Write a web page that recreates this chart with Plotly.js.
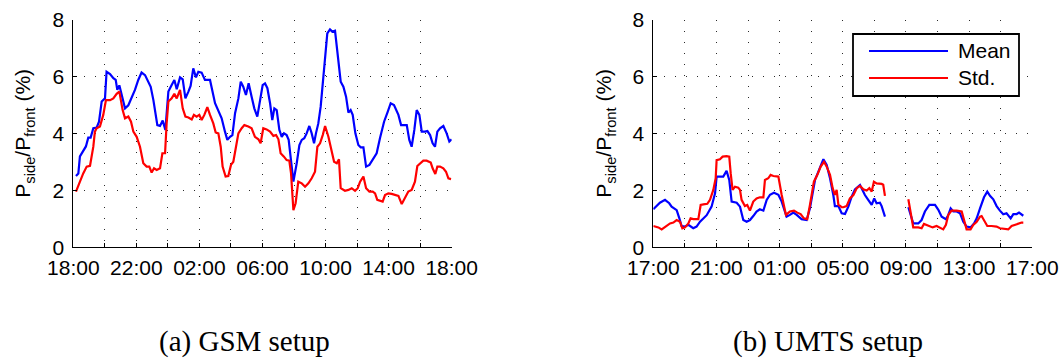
<!DOCTYPE html>
<html>
<head>
<meta charset="utf-8">
<script src="https://cdn.plot.ly/plotly-3.0.1.min.js"></script>
<style>
  html, body { margin: 0; padding: 0; background: #fff; }
  #chart { width: 1061px; height: 363px; }
</style>
</head>
<body>
<div id="chart"></div>
<script>
// ---------- Data (hours elapsed since start of each measurement) ----------
const seriesNames = ['Mean', 'Std.'];
const seriesColors = ['#0000ff', '#ff0000'];

const gsmTickLabels = ['18:00', '22:00', '02:00', '06:00', '10:00', '14:00', '18:00'];
const umtsTickLabels = ['17:00', '21:00', '01:00', '05:00', '09:00', '13:00', '17:00'];
const labelHours = [0, 4, 8, 12, 16, 20, 24];
const gridHours = [0, 2, 4, 6, 8, 10, 12, 14, 16, 18, 20, 22, 24];
const yTickValues = [0, 2, 4, 6, 8];

const gsmMeanHours = [0.17,0.32,0.42,0.63,0.80,0.95,1.10,1.27,1.48,1.63,1.80,2.01,2.11,2.33,2.54,2.69,2.79,2.92,3.07,3.28,3.49,3.70,3.91,4.12,4.33,4.55,4.76,4.91,5.08,5.33,5.50,5.67,5.84,6.03,6.24,6.41,6.56,6.77,6.94,7.11,7.30,7.44,7.61,7.78,7.93,8.14,8.35,8.67,8.99,9.20,9.41,9.62,9.77,9.94,10.09,10.26,10.47,10.62,10.78,10.95,11.12,11.31,11.48,11.67,11.84,12.01,12.16,12.31,12.48,12.62,12.75,12.90,13.07,13.22,13.36,13.53,13.66,13.79,13.96,14.17,14.34,14.49,14.65,14.80,14.97,15.12,15.27,15.39,15.54,15.69,15.82,15.97,16.11,16.28,16.43,16.60,16.75,16.96,17.13,17.30,17.45,17.59,17.72,17.89,18.08,18.23,18.40,18.57,18.78,18.99,19.24,19.45,19.71,19.94,20.13,20.34,20.62,20.79,20.98,21.15,21.31,21.46,21.63,21.78,21.95,22.10,22.31,22.46,22.63,22.79,22.94,23.09,23.26,23.47,23.68,23.85,24.00];
const gsmMean = [2.51,2.6,3.2,3.4,3.55,3.86,3.86,4.19,4.21,4.42,5.13,5.24,6.18,6.1,5.95,5.89,5.54,5.7,5.36,4.89,5.0,5.24,5.54,5.89,6.15,6.06,5.83,5.65,5.18,4.3,4.27,4.46,4.13,5.48,5.71,5.89,5.56,5.98,5.91,5.24,5.48,5.68,6.3,5.98,6.18,6.15,5.89,5.89,5.07,4.83,4.54,4.07,3.78,3.89,3.95,4.72,5.24,5.83,5.65,5.36,5.77,5.3,4.89,4.6,5.18,5.71,5.77,5.6,5.07,4.48,4.89,4.83,4.13,3.89,4.01,3.95,3.78,3.2,2.31,2.96,3.6,3.78,3.84,4.01,4.27,4.01,3.66,4.01,4.36,4.95,5.77,6.94,7.53,7.67,7.59,7.62,6.83,5.83,5.65,5.3,4.74,4.83,4.66,4.01,3.6,3.52,3.52,2.84,2.9,3.07,3.31,3.84,4.42,4.77,5.07,5.01,4.66,4.3,4.3,4.3,3.78,3.54,4.13,4.83,4.66,4.07,4.07,4.09,3.95,3.66,3.54,4.07,4.19,4.27,4.01,3.72,3.8];

const gsmStdHours = [0.17,0.42,0.63,0.85,1.06,1.27,1.37,1.48,1.69,1.90,2.07,2.33,2.54,2.75,2.92,3.13,3.28,3.49,3.66,3.81,4.02,4.23,4.44,4.65,4.82,4.97,5.12,5.29,5.50,5.65,5.82,5.92,6.03,6.24,6.41,6.56,6.77,6.94,7.11,7.30,7.51,7.65,7.82,7.99,8.14,8.31,8.50,8.67,8.88,9.03,9.20,9.35,9.47,9.66,9.83,10.00,10.15,10.32,10.47,10.68,10.85,11.10,11.31,11.52,11.74,11.88,12.05,12.26,12.48,12.69,12.86,13.01,13.15,13.36,13.53,13.70,13.81,13.96,14.10,14.27,14.49,14.70,14.91,15.12,15.33,15.48,15.65,15.82,15.97,16.18,16.35,16.54,16.71,16.85,16.96,17.23,17.45,17.66,17.87,18.04,18.19,18.40,18.57,18.78,18.99,19.14,19.28,19.45,19.62,19.77,19.98,20.19,20.41,20.62,20.83,21.04,21.25,21.46,21.67,21.82,22.04,22.20,22.41,22.67,22.79,22.96,23.09,23.26,23.47,23.64,23.79,23.96];
const gsmStd = [1.96,2.31,2.6,2.84,2.87,3.54,4.07,4.19,4.25,4.66,5.18,5.18,5.24,5.4,5.48,4.83,4.54,4.6,4.42,4.07,3.89,3.54,2.96,2.84,2.84,2.63,2.78,2.72,2.78,3.31,3.31,4.36,5.13,5.24,5.4,5.24,5.54,4.89,4.6,4.57,4.5,4.66,4.6,4.66,4.48,4.66,4.93,4.66,4.36,4.04,4.01,3.54,2.84,2.49,2.51,2.9,3.01,3.54,4.01,4.19,4.3,4.25,4.19,3.89,3.8,3.66,4.19,4.15,4.07,3.92,3.95,3.8,3.31,3.19,3.07,3.05,2.6,1.31,1.55,2.31,2.25,2.13,2.25,2.43,2.66,3.54,3.66,3.95,4.27,3.89,3.48,3.01,2.96,3.1,2.08,1.99,2.02,2.08,1.99,2.08,2.31,2.49,2.08,1.96,1.96,1.9,1.67,1.63,1.61,1.84,1.9,1.88,1.84,1.81,1.52,1.72,1.96,2.02,2.31,2.86,2.96,3.05,3.05,2.98,2.78,2.58,2.84,2.84,2.78,2.66,2.43,2.4];

// UMTS: null marks the measurement gap
const umtsMeanHours = [0.00,0.21,0.42,0.74,1.01,1.16,1.48,1.65,1.79,2.01,2.22,2.53,2.74,2.96,3.38,3.69,3.91,4.01,4.43,4.64,4.81,4.96,5.28,5.49,5.70,5.91,6.12,6.33,6.54,6.75,6.97,7.18,7.39,7.64,7.92,8.13,8.44,8.65,8.87,9.08,9.39,9.71,9.92,10.24,10.55,10.77,10.98,11.19,11.40,11.50,11.72,11.93,12.14,12.35,12.56,12.77,13.09,13.40,13.61,13.83,13.99,14.14,14.35,14.46,14.67,15.40,16.15,16.46,16.78,16.99,17.20,17.48,17.84,18.05,18.26,18.53,18.68,18.83,19.00,19.21,19.42,19.63,19.84,20.09,20.31,20.48,20.69,20.94,21.15,21.32,21.53,21.74,21.95,22.16,22.37,22.63,22.80,23.01,23.16,23.32,23.43];
const umtsMean = [1.34,1.45,1.57,1.67,1.55,1.43,1.31,1.02,0.75,0.73,0.79,0.67,0.73,0.90,1.13,1.43,1.90,2.49,2.49,2.69,2.37,1.61,1.57,1.43,0.96,0.90,0.96,1.10,1.26,1.34,1.29,1.67,1.85,1.92,1.85,1.61,1.08,1.14,1.22,1.14,0.99,0.96,1.37,2.37,2.84,3.10,2.90,2.43,1.84,1.45,1.45,1.20,1.17,1.43,1.78,2.04,2.19,1.84,1.67,1.49,1.72,1.55,1.57,1.45,1.08,null,1.41,0.84,0.84,0.96,1.26,1.49,1.49,1.32,1.08,0.99,1.14,1.37,1.26,1.26,1.20,0.90,0.73,0.70,0.84,1.02,1.37,1.76,1.96,1.81,1.69,1.45,1.29,1.16,1.20,1.02,1.17,1.17,1.22,1.14,1.11];

const umtsStdHours = [0.00,0.32,0.53,0.84,1.06,1.27,1.48,1.69,1.84,2.01,2.22,2.36,2.53,2.85,3.00,3.17,3.42,3.59,3.80,3.95,4.01,4.22,4.39,4.64,4.81,4.90,5.02,5.17,5.38,5.49,5.59,5.80,5.95,6.12,6.33,6.54,6.75,6.97,7.07,7.28,7.43,7.60,7.92,8.13,8.40,8.65,8.91,9.12,9.33,9.54,9.75,9.92,10.17,10.39,10.60,10.81,10.98,11.19,11.36,11.50,11.61,11.72,11.93,12.03,12.24,12.45,12.67,12.88,13.09,13.30,13.51,13.68,13.83,13.97,14.14,14.46,14.56,14.67,15.40,16.15,16.30,16.46,16.78,16.99,17.14,17.41,17.69,17.94,18.15,18.36,18.53,18.68,18.89,19.21,19.53,19.67,19.84,20.09,20.26,20.48,20.69,20.79,20.94,21.15,21.42,21.74,21.95,22.27,22.48,22.69,23.01,23.32,23.43];
const umtsStd = [0.75,0.70,0.63,0.75,0.84,0.87,0.96,0.90,0.67,0.70,0.84,1.02,0.99,0.99,1.49,1.51,1.53,1.67,2.02,2.43,3.07,3.10,3.19,3.21,3.19,2.61,2.02,2.13,2.10,2.02,1.67,1.45,1.49,1.29,1.61,1.72,1.76,1.76,2.37,2.43,2.55,2.51,2.49,1.84,1.14,1.26,1.29,1.22,1.17,1.02,0.99,1.49,2.31,2.55,2.84,3.01,2.84,2.55,2.08,1.84,2.02,1.50,1.41,1.41,1.45,1.72,1.84,2.08,2.16,2.04,2.00,2.08,1.96,2.31,2.25,2.23,2.20,1.81,null,1.69,1.20,0.70,0.70,0.67,0.82,0.75,0.70,0.75,0.70,0.63,0.79,1.14,1.29,1.29,1.26,0.96,0.63,0.63,0.79,0.90,1.08,1.10,0.96,0.75,0.75,0.73,0.67,0.63,0.63,0.75,0.82,0.87,0.87];

// ---------- Styling helpers ----------
const FONT = 'Liberation Sans, Arial, Helvetica, sans-serif';
const W = 1061, H = 363;
const px = v => v / W;
const py = v => 1 - v / H;

const GRID = { color: '#2a2a2a', dash: '1px,10px' };

const baseAxis = {
  showgrid: true, gridcolor: GRID.color, gridwidth: 1, griddash: GRID.dash,
  zeroline: false, showline: true, linecolor: '#000', linewidth: 1,
  ticks: 'inside', ticklen: 4, tickcolor: '#000', tickwidth: 1,
  tickfont: { family: FONT, size: 21, color: '#000' }, fixedrange: true
};

function xAxis(domain, labels, anchor) {
  return Object.assign({}, baseAxis, {
    domain: domain, range: [0, 24], anchor: anchor,
    tickmode: 'array', tickvals: labelHours, ticktext: labels,
    ticklabelstandoff: 1,
    minor: {
      tickmode: 'array', tickvals: gridHours, ticks: 'inside', ticklen: 4, tickcolor: '#000',
      showgrid: true, gridcolor: GRID.color, gridwidth: 1, griddash: GRID.dash
    }
  });
}
function yAxis(domain, anchor) {
  return Object.assign({}, baseAxis, {
    domain: domain, range: [0, 8], anchor: anchor,
    tickmode: 'array', tickvals: yTickValues, ticktext: yTickValues.map(String),
    ticklabelstandoff: 4
  });
}

const lineOf = (i) => ({ color: seriesColors[i], width: 2.2 });

const traces = [
  { x: gsmMeanHours, y: gsmMean, name: seriesNames[0], mode: 'lines', line: lineOf(0), xaxis: 'x', yaxis: 'y' },
  { x: gsmStdHours, y: gsmStd, name: seriesNames[1], mode: 'lines', line: lineOf(1), xaxis: 'x', yaxis: 'y' },
  { x: umtsMeanHours, y: umtsMean, name: seriesNames[0], mode: 'lines', line: lineOf(0), xaxis: 'x2', yaxis: 'y2', connectgaps: false },
  { x: umtsStdHours, y: umtsStd, name: seriesNames[1], mode: 'lines', line: lineOf(1), xaxis: 'x2', yaxis: 'y2', connectgaps: false }
];

const yDomain = [py(247.3), py(20)];
const yTitle = 'P<sub>side</sub>/P<sub>front</sub> (%)';

// manual legend (box, line samples, labels)
const leg = { x0: 853, x1: 1019, y0: 34, y1: 96, lx0: 869, lx1: 948, tx: 956, rows: [51, 78] };

const shapes = [
  { type: 'rect', xref: 'paper', yref: 'paper', x0: px(leg.x0), x1: px(leg.x1), y0: py(leg.y1), y1: py(leg.y0),
    line: { color: '#000', width: 1.8 }, fillcolor: '#fff', layer: 'above' }
].concat(seriesNames.map((n, i) => ({
  type: 'line', xref: 'paper', yref: 'paper', x0: px(leg.lx0), x1: px(leg.lx1),
  y0: py(leg.rows[i]), y1: py(leg.rows[i]), line: { color: seriesColors[i], width: 2.2 }, layer: 'above'
})));

const annotations = [
  { text: yTitle, xref: 'paper', yref: 'paper', x: px(24), y: (yDomain[0] + yDomain[1]) / 2,
    xanchor: 'center', yanchor: 'middle', textangle: -90, showarrow: false,
    font: { family: FONT, size: 21, color: '#000' } },
  { text: yTitle, xref: 'paper', yref: 'paper', x: px(605), y: (yDomain[0] + yDomain[1]) / 2,
    xanchor: 'center', yanchor: 'middle', textangle: -90, showarrow: false,
    font: { family: FONT, size: 21, color: '#000' } },
  { text: '(a) GSM setup', xref: 'paper', yref: 'paper', x: px(244), y: py(341),
    xanchor: 'center', yanchor: 'middle', showarrow: false,
    font: { family: 'Liberation Serif, Times New Roman, serif', size: 29, color: '#000' } },
  { text: '(b) UMTS setup', xref: 'paper', yref: 'paper', x: px(828), y: py(341),
    xanchor: 'center', yanchor: 'middle', showarrow: false,
    font: { family: 'Liberation Serif, Times New Roman, serif', size: 29, color: '#000' } }
].concat(seriesNames.map((n, i) => ({
  text: n, xref: 'paper', yref: 'paper', x: px(leg.tx), y: py(leg.rows[i]),
  xanchor: 'left', yanchor: 'middle', showarrow: false,
  font: { family: FONT, size: 21, color: '#000' }
})));

const layout = {
  width: W, height: H,
  margin: { l: 0, r: 0, t: 0, b: 0, pad: 0 },
  paper_bgcolor: '#fff', plot_bgcolor: '#fff',
  showlegend: false,
  xaxis: xAxis([px(73.3), px(451.7)], gsmTickLabels, 'y'),
  yaxis: yAxis(yDomain, 'x'),
  xaxis2: xAxis([px(653.3), px(1032.3)], umtsTickLabels, 'y2'),
  yaxis2: yAxis(yDomain, 'x2'),
  shapes: shapes,
  annotations: annotations
};

Plotly.newPlot('chart', traces, layout, { displayModeBar: false, staticPlot: true });
</script>
</body>
</html>
